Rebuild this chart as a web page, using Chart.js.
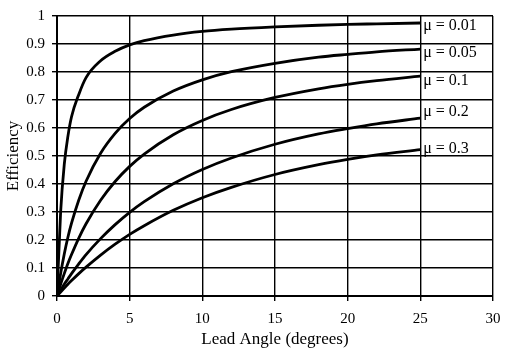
<!DOCTYPE html>
<html>
<head>
<meta charset="utf-8">
<script src="https://cdn.jsdelivr.net/npm/chart.js@4/dist/chart.umd.min.js"></script>
<style>
html,body{margin:0;padding:0;background:#fff;}
canvas{display:block;}
</style>
</head>
<body>
<canvas id="c" width="515" height="355"></canvas>
<script>
// Lead angle (degrees)
const leadAngles = [0, 0.25, 0.5, 0.75, 1, 1.5, 2, 3, 4, 5, 6, 8, 10, 12, 15, 18, 20, 22, 25];
// Efficiency values
const effMu001 = [0, 0.30, 0.47, 0.57, 0.64, 0.72, 0.78, 0.84, 0.874, 0.897, 0.912, 0.932, 0.945, 0.953, 0.961, 0.967, 0.970, 0.972, 0.975];
const effMu005 = [0, 0.08, 0.15, 0.21, 0.26, 0.343, 0.41, 0.51, 0.581, 0.634, 0.674, 0.732, 0.772, 0.801, 0.831, 0.853, 0.863, 0.872, 0.882];
const effMu01  = [0, 0.042, 0.080, 0.116, 0.148, 0.207, 0.258, 0.342, 0.409, 0.463, 0.507, 0.576, 0.627, 0.666, 0.709, 0.740, 0.756, 0.769, 0.785];
const effMu02  = [0, 0.021, 0.042, 0.061, 0.080, 0.115, 0.148, 0.205, 0.255, 0.299, 0.337, 0.401, 0.452, 0.493, 0.542, 0.579, 0.598, 0.615, 0.635];
const effMu03  = [0, 0.014, 0.028, 0.042, 0.055, 0.080, 0.103, 0.146, 0.185, 0.220, 0.251, 0.306, 0.351, 0.388, 0.434, 0.469, 0.488, 0.504, 0.523];
const seriesNames = ['μ = 0.01', 'μ = 0.05', 'μ = 0.1', 'μ = 0.2', 'μ = 0.3'];
const seriesValues = [effMu001, effMu005, effMu01, effMu02, effMu03];
// curve label anchors (data coordinates)
const labelX = 25.2;
const labelY = [0.965, 0.869, 0.767, 0.657, 0.527];
const yTickLabels = ['0', '0.1', '0.2', '0.3', '0.4', '0.5', '0.6', '0.7', '0.8', '0.9', '1'];
const xTickLabels = ['0', '5', '10', '15', '20', '25', '30'];

const serif = "'Liberation Serif', 'DejaVu Serif', serif";

const datasets = seriesValues.map((vals, i) => ({
  label: seriesNames[i],
  data: leadAngles.map((a, j) => ({x: a, y: vals[j]})),
  borderColor: '#000',
  borderWidth: 2.8,
  pointRadius: 0,
  showLine: true,
  fill: false,
  cubicInterpolationMode: 'monotone'
}));

const curveLabels = {
  id: 'curveLabels',
  afterDatasetsDraw(chart) {
    const {ctx, scales} = chart;
    ctx.save();
    ctx.fillStyle = '#000';
    ctx.font = "16px " + serif;
    ctx.textAlign = 'left';
    ctx.textBaseline = 'middle';
    seriesNames.forEach((name, i) => {
      ctx.fillText(name, scales.x.getPixelForValue(labelX), scales.y.getPixelForValue(labelY[i]));
    });
    ctx.restore();
  }
};

new Chart(document.getElementById('c'), {
  type: 'scatter',
  data: {datasets},
  options: {
    responsive: false,
    animation: false,
    layout: {padding: {top: 13, right: 22, bottom: 0, left: 0}},
    plugins: {legend: {display: false}, tooltip: {enabled: false}},
    scales: {
      x: {
        type: 'linear', min: 0, max: 30,
        ticks: {stepSize: 5, color: '#000', font: {family: serif, size: 15}, padding: 9,
          callback: (v, i) => xTickLabels[i]},
        grid: {color: '#000', lineWidth: 1.4, tickLength: 5},
        border: {color: '#000', width: 2},
        title: {display: true, text: 'Lead Angle (degrees)', color: '#000', font: {family: serif, size: 17}, padding: {top: 0, bottom: 5}},
        afterFit(s) { s.height = 59; }
      },
      y: {
        type: 'linear', min: 0, max: 1,
        ticks: {stepSize: 0.1, color: '#000', font: {family: serif, size: 15}, padding: 7,
          callback: (v, i) => yTickLabels[i]},
        grid: {color: '#000', lineWidth: 1.4, tickLength: 5},
        border: {color: '#000', width: 2},
        title: {display: true, text: 'Efficiency', color: '#000', font: {family: serif, size: 17}, padding: {top: 3, bottom: 0}},
        afterFit(s) { s.width = 57; }
      }
    }
  },
  plugins: [curveLabels]
});
</script>
</body>
</html>
